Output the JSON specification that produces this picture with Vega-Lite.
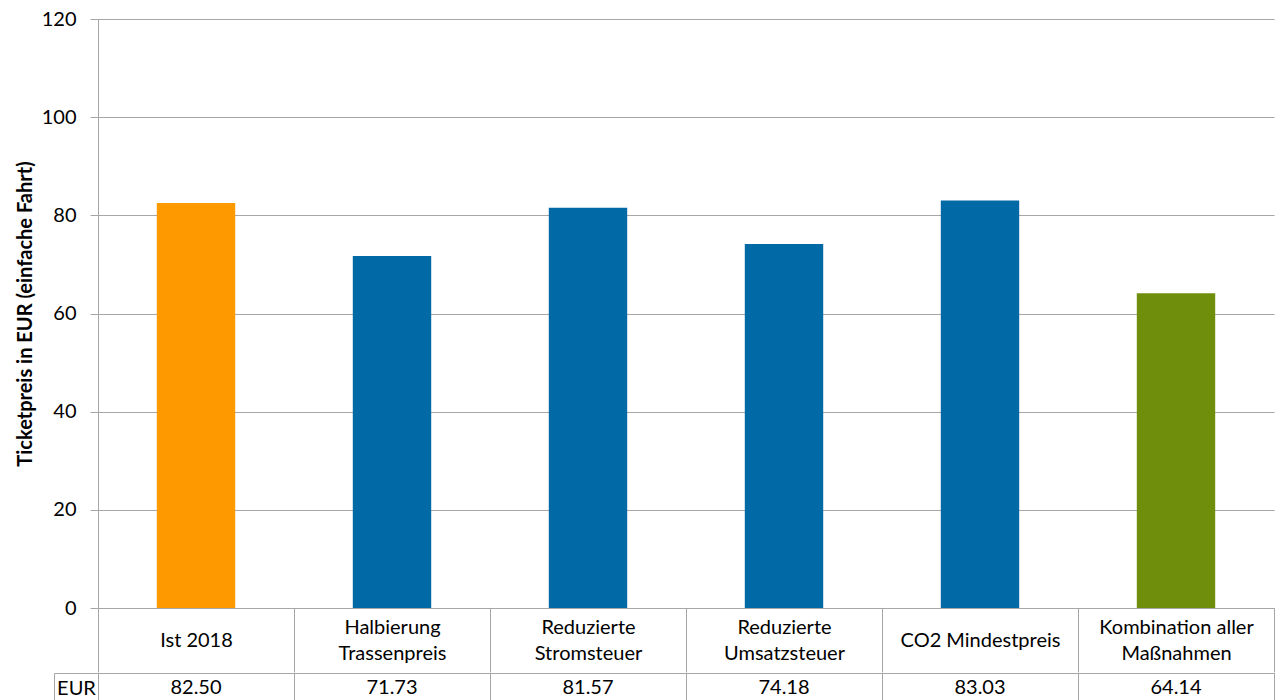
{
  "$schema": "https://vega.github.io/schema/vega-lite/v6.json",
  "padding": {"left": 15, "top": 9, "right": 0, "bottom": 0},
  "background": "#ffffff",
  "config": {
    "font": "Lato",
    "view": {"stroke": null},
    "axis": {"labelFont": "Lato", "titleFont": "Lato", "labelColor": "#000000", "titleColor": "#000000"}
  },
  "data": {
    "values": [
      {"cat": "Ist 2018", "eur": 82.50, "typ": "Ist"},
      {"cat": "Halbierung\nTrassenpreis", "eur": 71.73, "typ": "Einzelmaßnahme"},
      {"cat": "Reduzierte\nStromsteuer", "eur": 81.57, "typ": "Einzelmaßnahme"},
      {"cat": "Reduzierte\nUmsatzsteuer", "eur": 74.18, "typ": "Einzelmaßnahme"},
      {"cat": "CO2 Mindestpreis", "eur": 83.03, "typ": "Einzelmaßnahme"},
      {"cat": "Kombination aller\nMaßnahmen", "eur": 64.14, "typ": "Kombination"}
    ]
  },
  "spacing": -18,
  "vconcat": [
    {
      "width": 1176,
      "height": 589,
      "mark": {"type": "bar", "width": {"band": 0.4}},
      "encoding": {
        "x": {
          "field": "cat", "type": "nominal", "sort": null,
          "scale": {"paddingInner": 0, "paddingOuter": 0},
          "axis": {
            "title": null, "labelAngle": 0, "tickBand": "extent", "tickSize": 64,
            "tickColor": "#a6a6a6", "domainColor": "#a6a6a6",
            "labelPadding": -45,
            "labelBaseline": "middle", "labelLineHeight": 13,
            "labelExpr": "indexof(datum.label, '\\n') >= 0 ? [split(datum.label, '\\n')[0], '\u200b', split(datum.label, '\\n')[1]] : ['\u200b', datum.label]",
            "labelFontSize": 20, "labelLimit": 300
          }
        },
        "y": {
          "field": "eur", "type": "quantitative",
          "scale": {"domain": [0, 120], "nice": false},
          "axis": {
            "values": [0, 20, 40, 60, 80, 100, 120],
            "title": "Ticketpreis in EUR (einfache Fahrt)",
            "titleFontSize": 20, "titleFontWeight": "bold", "titlePadding": 6,
            "labelFontSize": 20, "labelPadding": 14, "tickSize": 8,
            "tickColor": "#a6a6a6", "domainColor": "#a6a6a6",
            "grid": true, "gridColor": "#a6a6a6"
          }
        },
        "color": {
          "field": "typ", "type": "nominal",
          "scale": {"domain": ["Ist", "Einzelmaßnahme", "Kombination"], "range": ["#ff9900", "#0069a6", "#6f8e0c"]},
          "legend": null
        }
      }
    },
    {
      "width": 1176,
      "height": 30,
      "view": {"stroke": "#a6a6a6"},
      "mark": {"type": "text", "fontSize": 20, "color": "#000000", "font": "Lato"},
      "encoding": {
        "x": {
          "field": "cat", "type": "nominal", "sort": null,
          "scale": {"paddingInner": 0, "paddingOuter": 0},
          "axis": {"title": null, "labels": false, "ticks": false, "domain": false, "grid": true, "tickBand": "extent", "gridColor": "#a6a6a6"}
        },
        "y": {
          "datum": "EUR", "type": "nominal",
          "scale": {"paddingInner": 0, "paddingOuter": 0},
          "axis": {
            "title": null, "offset": 44, "domainColor": "#a6a6a6", "tickBand": "extent",
            "tickSize": -44, "tickColor": "#a6a6a6", "labelAlign": "center", "labelPadding": 22,
            "labelFontSize": 20, "labelBaseline": "middle", "grid": false
          }
        },
        "text": {"field": "eur", "type": "quantitative", "format": ".2f"}
      }
    }
  ]
}
